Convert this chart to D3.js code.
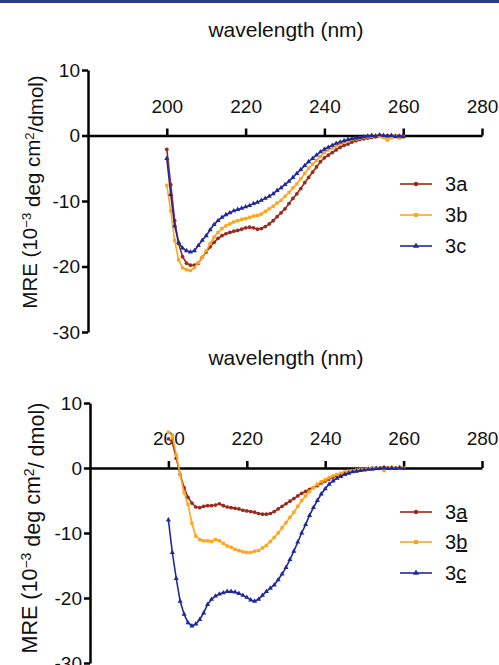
<!DOCTYPE html>
<html>
<head>
<meta charset="utf-8">
<script src="https://cdn.jsdelivr.net/npm/d3@7"></script>
<style>
  body { margin: 0; background: #fff; }
  text { font-family: "Liberation Sans", Arial, sans-serif; fill: #111; }
  .axis path, .axis line { stroke: #000; stroke-width: 2.5; }
  .axis text { font-size: 19px; fill: #111; }
</style>
</head>
<body>
<div id="chart"></div>
<script>
const width = 499,
  height = 665;

// wavelengths, 1 nm steps
const wavelength = d3.range(200, 261);

const xTicks = [200, 220, 240, 260, 280];
const yTicks = [10, 0, -10, -20, -30];

// top panel
const top3a = [-2.1, -7.5, -13, -16.5, -18.5, -19.5, -19.8, -19.8, -19.5, -18.6,
  -17.8, -17, -16.3, -15.7, -15.3, -15, -14.8, -14.6, -14.5, -14.3,
  -14.1, -14, -14.1, -14.3, -14.2, -13.9, -13.5, -13, -12.4, -11.8,
  -11.2, -10.4, -9.6, -8.9, -8.1, -7.2, -6.4, -5.6, -4.8, -4.0,
  -3.4, -3.0, -2.6, -2.2, -1.8, -1.5, -1.3, -1.0, -0.8, -0.6,
  -0.5, -0.4, -0.3, -0.2, -0.1, -0.1, 0, -0.1, 0, -0.2, -0.1];
const top3b = [-7.6, -11.5, -16, -19, -20.2, -20.5, -20.6, -20.2, -19.4, -18.6,
  -17.6, -16.5, -15.5, -14.8, -14.2, -13.8, -13.5, -13.2, -13, -12.8,
  -12.7, -12.5, -12.3, -12.2, -12, -11.6, -11.2, -10.8, -10.3, -9.9,
  -9.3, -8.7, -8.0, -7.4, -6.6, -5.8, -5.0, -4.4, -3.8, -3.2,
  -2.6, -2.2, -1.9, -1.6, -1.3, -1.0, -0.8, -0.6, -0.5, -0.4,
  -0.3, -0.2, -0.1, 0, -0.1, -0.3, -0.7, -0.3, -0.1, -0.4, -0.2];
const top3c = [-3.5, -9, -13.8, -16.3, -17.2, -17.6, -17.8, -17.6, -16.8, -16,
  -15.3, -14.4, -13.6, -13, -12.5, -12.1, -11.8, -11.5, -11.3, -11.1,
  -10.9, -10.7, -10.4, -10.2, -9.9, -9.6, -9.3, -8.9, -8.4, -8.0,
  -7.5, -7.0, -6.4, -5.8, -5.2, -4.6, -4.0, -3.5, -3.0, -2.5,
  -2.1, -1.8, -1.5, -1.2, -1.0, -0.8, -0.6, -0.5, -0.4, -0.3,
  -0.2, -0.1, 0, -0.1, 0.1, 0, -0.1, 0, -0.2, -0.1, -0.2];

// bottom panel
const bot3a = [4.5, 4, 1.5, -1, -3, -4.5, -5.4, -6, -6.1, -5.9,
  -5.8, -5.8, -5.7, -5.5, -5.8, -6, -6.1, -6.2, -6.3, -6.5,
  -6.6, -6.7, -6.8, -7, -7.1, -7.1, -7.0, -6.7, -6.3, -5.9,
  -5.5, -5.1, -4.7, -4.3, -3.9, -3.6, -3.3, -3.0, -2.7, -2.3,
  -2.0, -1.7, -1.4, -1.2, -1.0, -0.8, -0.6, -0.5, -0.4, -0.3,
  -0.2, -0.1, 0, 0, 0, 0.1, 0, 0, 0, 0.1, 0];
const bot3b = [5.5, 5, 2, -1, -3.8, -5.6, -8.5, -10.5, -11, -11.2,
  -11.2, -11.3, -11, -11.2, -11.6, -12, -12.2, -12.5, -12.7, -12.9,
  -13, -13, -12.8, -12.7, -12.3, -11.9, -11.3, -10.7, -10, -9.2,
  -8.4, -7.6, -6.8, -5.9, -5.0, -4.3, -3.6, -3.0, -2.5, -2.1,
  -1.8, -1.5, -1.2, -1.0, -0.8, -0.6, -0.5, -0.4, -0.3, -0.2,
  -0.2, -0.1, 0, -0.1, 0, -0.4, 0, 0.1, -0.1, 0, 0];
const bot3c = [-8, -13, -17, -20.5, -22.5, -23.8, -24.3, -24, -23.3, -22.3,
  -21, -20.2, -19.7, -19.4, -19.2, -19, -19, -19.1, -19.3, -19.6,
  -19.9, -20.3, -20.5, -20.2, -19.6, -19, -18.5, -18, -17.2, -16.3,
  -15.3, -14.1, -12.8, -11.4, -10, -8.7, -7.3, -6.1, -5.0, -4.0,
  -3.2, -2.5, -2.0, -1.6, -1.3, -1.0, -0.8, -0.6, -0.5, -0.4,
  -0.3, -0.2, -0.2, -0.1, -0.1, 0, -0.1, 0, -0.1, 0, -0.1];

const colors = ["#992a1c", "#ffa41c", "#1f2a9a"];
const symbols = [d3.symbolCircle, d3.symbolSquare, d3.symbolTriangle];

const svg = d3
  .select("#chart")
  .append("svg")
  .attr("width", width)
  .attr("height", height);

// dark band along the top edge
svg.append("rect").attr("x", 0).attr("y", 0).attr("width", width).attr("height", 3).attr("fill", "#2d3b8b");

function drawPanel(cfg) {
  const x = d3.scaleLinear().domain([180, 280]).range([cfg.left, 482]);
  const y = d3.scaleLinear().domain([-30, 10]).range([cfg.bottom, cfg.top]);
  const g = svg.append("g");

  g.append("text")
    .attr("x", 286)
    .attr("y", cfg.titleY)
    .attr("text-anchor", "middle")
    .style("font-size", "21px")
    .text("wavelength (nm)");

  g.append("g")
    .attr("class", "axis")
    .attr("transform", `translate(${cfg.left},0)`)
    .call(
      d3.axisLeft(y)
        .tickValues(yTicks)
        .tickFormat((d) => String(d))
        .tickSize(6)
        .tickSizeOuter(0)
        .tickPadding(2)
    );

  g.append("g")
    .attr("class", "axis")
    .attr("transform", `translate(0,${y(0)})`)
    .call(d3.axisTop(x).tickValues(xTicks).tickSize(7).tickSizeOuter(0).tickPadding(16));

  // y label
  const lab = g
    .append("text")
    .attr("transform", `translate(${cfg.labelX},${cfg.labelY}) rotate(-90)`)
    .attr("text-anchor", "middle")
    .style("font-size", cfg.labelSize + "px");
  lab.append("tspan").text("MRE (10");
  lab.append("tspan").attr("dy", "-0.45em").style("font-size", "0.65em").text("\u22123");
  lab.append("tspan").attr("dy", "0.45em").text(" deg cm");
  lab.append("tspan").attr("dy", "-0.45em").style("font-size", "0.65em").text("2");
  lab.append("tspan").attr("dy", "0.45em").text(cfg.slash);

  const line = d3
    .line()
    .x((d, i) => x(wavelength[i]))
    .y((d) => y(d));

  cfg.series.forEach((s, k) => {
    const sg = g.append("g");
    sg.append("path")
      .datum(s)
      .attr("d", line)
      .attr("fill", "none")
      .attr("stroke", colors[k])
      .attr("stroke-width", 1.6);
    sg.selectAll("path.pt")
      .data(s)
      .enter()
      .append("path")
      .attr("class", "pt")
      .attr("transform", (d, i) => `translate(${x(wavelength[i])},${y(d)})`)
      .attr("d", d3.symbol().type(symbols[k]).size(11))
      .attr("fill", colors[k]);

    // legend
    const ly = cfg.legendY[k];
    sg.append("line")
      .attr("x1", 400).attr("x2", 432)
      .attr("y1", ly).attr("y2", ly)
      .attr("stroke", colors[k])
      .attr("stroke-width", 1.6);
    sg.append("path")
      .attr("transform", `translate(416,${ly})`)
      .attr("d", d3.symbol().type(symbols[k]).size(16))
      .attr("fill", colors[k]);
    const t = sg
      .append("text")
      .attr("x", 445)
      .attr("y", ly + 7)
      .style("font-size", "20px");
    t.append("tspan").text("3");
    const sfx = t.append("tspan").text(cfg.names[k]);
    if (cfg.underline) sfx.style("text-decoration", "underline");
  });
}

drawPanel({
  left: 88, top: 70, bottom: 332, titleY: 37,
  labelX: 37, labelY: 192, labelSize: 20.5, slash: "/dmol)",
  legendY: [184, 215, 246],
  names: ["a", "b", "c"], underline: false,
  series: [top3a, top3b, top3c],
});

drawPanel({
  left: 90, top: 403, bottom: 663, titleY: 365,
  labelX: 37, labelY: 528, labelSize: 21.5, slash: "/ dmol)",
  legendY: [512, 542, 573],
  names: ["a", "b", "c"], underline: true,
  series: [bot3a, bot3b, bot3c],
});
</script>
</body>
</html>
